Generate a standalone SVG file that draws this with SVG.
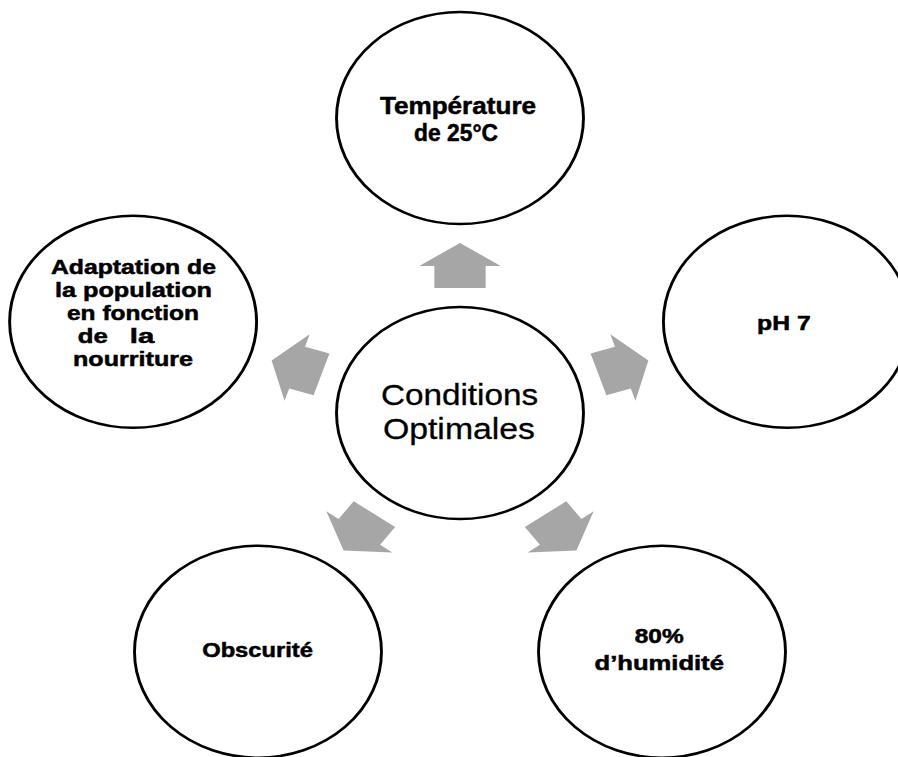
<svg xmlns="http://www.w3.org/2000/svg" xmlns:xlink="http://www.w3.org/1999/xlink" width="898" height="757" viewBox="0 0 898 757">
<style>
.node{fill:#ffffff;stroke:#000000;stroke-width:2.5}
.lbl{font-family:"Liberation Sans",Arial,sans-serif;font-weight:bold;font-size:20px;fill:#000000;stroke:#000000;stroke-width:0.5;text-anchor:middle}
.big{font-size:24px}
.ctr{font-family:"Liberation Sans",Arial,sans-serif;font-weight:normal;font-size:30px;fill:#000000;stroke:#000000;stroke-width:0.3;text-anchor:middle}
.arr{fill:#A6A6A6}
</style>
<defs>
<path id="arrow" class="arr" d="M -22,-125 L -22,-147 L -35,-147 L 0,-170 L 35,-147 L 22,-147 L 22,-125 Z"/>
</defs>
<rect x="0" y="0" width="898" height="757" fill="#ffffff"/>
<g transform="translate(460,413) scale(1.165,1)">
<g id="connectors">
<use xlink:href="#arrow" href="#arrow"/>
<use xlink:href="#arrow" href="#arrow" transform="rotate(72)"/>
<use xlink:href="#arrow" href="#arrow" transform="rotate(144)"/>
<use xlink:href="#arrow" href="#arrow" transform="rotate(216)"/>
<use xlink:href="#arrow" href="#arrow" transform="rotate(288)"/>
</g>
<g id="center">
<circle class="node" cx="0" cy="0" r="106"/>
<text class="ctr" x="-0.4" y="-8.5" textLength="135" lengthAdjust="spacingAndGlyphs">Conditions</text>
<text class="ctr" x="-0.9" y="25.5" textLength="130.5" lengthAdjust="spacingAndGlyphs">Optimales</text>
</g>
<g id="temperature">
<circle class="node" cx="0" cy="-295" r="106"/>
<text class="lbl big" x="-1.7" y="-299" textLength="134" lengthAdjust="spacingAndGlyphs">Température</text>
<text class="lbl big" x="-3.4" y="-272" textLength="72" lengthAdjust="spacingAndGlyphs">de 25°C</text>
</g>
<g id="ph">
<circle class="node" cx="280.6" cy="-91.2" r="106"/>
<text class="lbl" x="278" y="-83" textLength="46" lengthAdjust="spacingAndGlyphs">pH 7</text>
</g>
<g id="humidite">
<circle class="node" cx="173.4" cy="238.7" r="106"/>
<text class="lbl" x="171" y="230" textLength="42" lengthAdjust="spacingAndGlyphs">80%</text>
<text class="lbl" x="171" y="257" textLength="111" lengthAdjust="spacingAndGlyphs">d’humidité</text>
</g>
<g id="obscurite">
<circle class="node" cx="-173.4" cy="238.7" r="106"/>
<text class="lbl" x="-173.8" y="244" textLength="95" lengthAdjust="spacingAndGlyphs">Obscurité</text>
</g>
<g id="adaptation">
<circle class="node" cx="-280.6" cy="-91.2" r="106"/>
<text class="lbl" x="-280.3" y="-139" textLength="141.6" lengthAdjust="spacingAndGlyphs">Adaptation de</text>
<text class="lbl" x="-280.3" y="-116" textLength="134.8" lengthAdjust="spacingAndGlyphs">la population</text>
<text class="lbl" x="-280.7" y="-93" textLength="113.3" lengthAdjust="spacingAndGlyphs">en fonction</text>
<text class="lbl" y="-70"><tspan x="-312.5" textLength="25.8" lengthAdjust="spacingAndGlyphs">de</tspan> <tspan x="-273" textLength="21" lengthAdjust="spacingAndGlyphs">la</tspan></text>
<text class="lbl" x="-280.7" y="-47" textLength="103" lengthAdjust="spacingAndGlyphs">nourriture</text>
</g>
</g>
</svg>
